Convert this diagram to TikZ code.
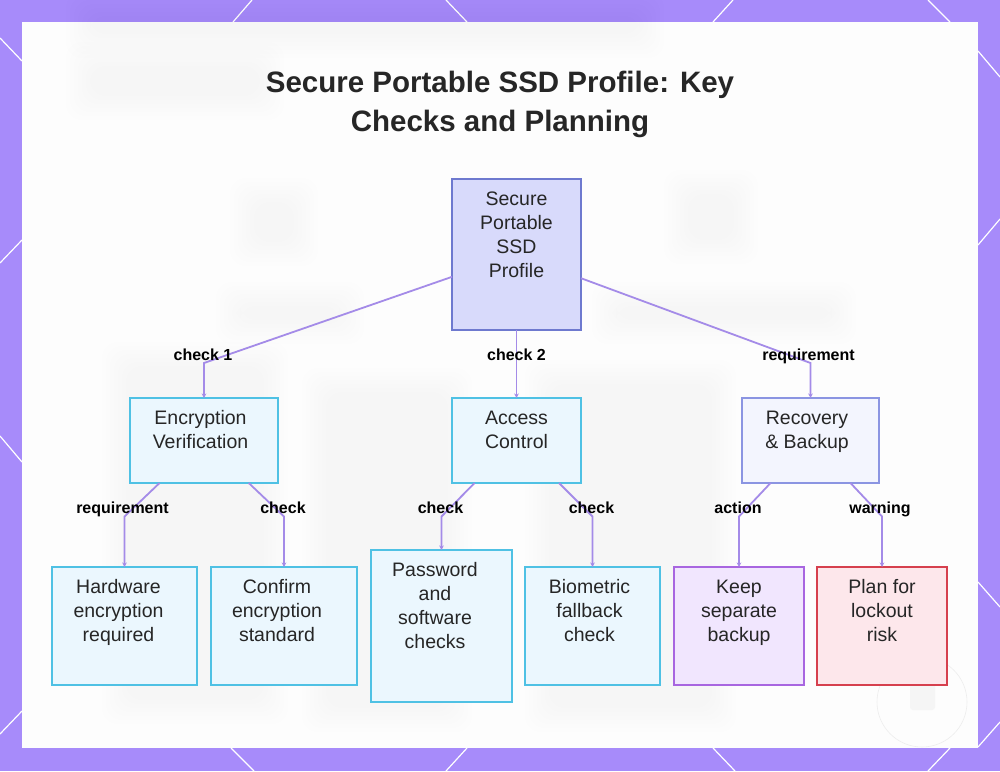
\documentclass[tikz,border=0pt]{standalone}
\usepackage{fontspec}
\setmainfont{Liberation Sans}
\usetikzlibrary{arrows.meta,calc}
\definecolor{bgpurple}{HTML}{A78BFA}
\definecolor{panel}{HTML}{FDFDFD}
\definecolor{conncol}{HTML}{A48BE8}
\definecolor{txt}{HTML}{262626}
\definecolor{rootfill}{HTML}{D8DAFB}
\definecolor{rootdraw}{HTML}{6E79CF}
\definecolor{cyanfill}{HTML}{EBF7FE}
\definecolor{cyandraw}{HTML}{4FC1E4}
\definecolor{recfill}{HTML}{F3F5FE}
\definecolor{recdraw}{HTML}{8B95E2}
\definecolor{keepfill}{HTML}{F1E6FE}
\definecolor{keepdraw}{HTML}{A866E0}
\definecolor{planfill}{HTML}{FDE7EB}
\definecolor{plandraw}{HTML}{D6404E}
\newcommand{\softblob}[5]{%
  \foreach \k in {0,4,...,24}{\fill[black,opacity=#5,rounded corners=16pt] (#1-\k,#2-\k) rectangle (#3+\k,#4+\k);}}
\begin{document}
\begin{tikzpicture}[x=1pt,y=-1pt,
  boxbase/.style={draw,line width=1.6pt,outer sep=0pt,inner sep=0pt},
  rootbox/.style={boxbase,fill=rootfill,draw=rootdraw},
  cyanbox/.style={boxbase,fill=cyanfill,draw=cyandraw},
  recbox/.style={boxbase,fill=recfill,draw=recdraw},
  keepbox/.style={boxbase,fill=keepfill,draw=keepdraw},
  planbox/.style={boxbase,fill=planfill,draw=plandraw},
  boxtext/.style={anchor=north,inner sep=0pt,align=center,text=txt,font=\fontsize{19.5}{24}\selectfont},
  lbl/.style={anchor=base,inner sep=0pt,text=black,font=\fontsize{16}{19}\selectfont\bfseries},
  conn/.style={draw=conncol,line width=1.8pt,-{Stealth[length=4.5pt,width=4.5pt]}},
  hexline/.style={draw=white,line width=1.2pt}]
\useasboundingbox (0,0) rectangle (1000,771);
% purple frame with hex lines
\fill[bgpurple] (0,0) rectangle (1000,771);
\foreach \a/\b/\c/\d in {252/0/233/22, 446/0/467/22, 733/0/713/22, 928/0/950/22,
  231/748/254/771, 467/748/446/771, 713/748/735/771, 950/748/928/771,
  0/38/22/61, 0/263/22/240, 0/436/22/462, 0/734/22/711,
  978/51/1000/77, 978/245/1000/219, 978/582/1000/607, 978/747/1000/722}
  {\draw[hexline] (\a,\b) -- (\c,\d);}
\fill[panel] (22,22) rectangle (978,748);
% faint blurred background content
\softblob{90}{16}{640}{34}{0.003}
\softblob{90}{66}{260}{96}{0.003}
\softblob{254}{202}{294}{242}{0.004}
\softblob{688}{194}{734}{240}{0.004}
\softblob{240}{306}{340}{320}{0.003}
\softblob{616}{306}{832}{320}{0.003}
\softblob{126}{366}{264}{700}{0.0045}
\softblob{326}{392}{448}{708}{0.0045}
\softblob{549}{384}{712}{708}{0.0045}
\draw[black!7,line width=0.6pt] (922,702) circle (45);
\fill[black!4,rounded corners=3pt] (910,678) rectangle (935,710);
% title
\node[anchor=north,inner sep=0pt,align=center,text=txt,font=\fontsize{29.5}{39.5}\selectfont\bfseries] (title) at (500,64.4) {\strut Secure Portable SSD Profile: Key\\Checks and Planning};
% boxes
\node[rootbox,minimum width=129pt,minimum height=151pt] (root) at (516.5,254.5) {};
\node[cyanbox,minimum width=148pt,minimum height=85pt] (enc) at (204,440.5) {};
\node[cyanbox,minimum width=129pt,minimum height=85pt] (acc) at (516.5,440.5) {};
\node[recbox,minimum width=137pt,minimum height=85pt] (rec) at (810.5,440.5) {};
\node[cyanbox,minimum width=145pt,minimum height=118pt] (hw) at (124.5,626) {};
\node[cyanbox,minimum width=146pt,minimum height=118pt] (conf) at (284,626) {};
\node[cyanbox,minimum width=141pt,minimum height=152pt] (pass) at (441.5,626) {};
\node[cyanbox,minimum width=135pt,minimum height=118pt] (bio) at (592.5,626) {};
\node[keepbox,minimum width=130pt,minimum height=118pt] (keep) at (739,626) {};
\node[planbox,minimum width=130pt,minimum height=118pt] (plan) at (882,626) {};
% box texts
\node[boxtext] (root-t) at ($(root.north)+(0,9.2)$) {\strut Secure\\Portable\\SSD\\Profile};
\node[boxtext] (enc-t) at ($(enc.north)+(-3.5,9.2)$) {\strut Encryption\\Verification};
\node[boxtext] (acc-t) at ($(acc.north)+(0,9.2)$) {\strut Access\\Control};
\node[boxtext] (rec-t) at ($(rec.north)+(-3.5,9.2)$) {\strut Recovery\\\& Backup};
\node[boxtext] (hw-t) at ($(hw.north)+(-6,9.2)$) {\strut Hardware\\encryption\\required};
\node[boxtext] (conf-t) at ($(conf.north)+(-7,9.2)$) {\strut Confirm\\encryption\\standard};
\node[boxtext] (pass-t) at ($(pass.north)+(-6.5,9.2)$) {\strut Password\\and\\software\\checks};
\node[boxtext] (bio-t) at ($(bio.north)+(-3,9.2)$) {\strut Biometric\\fallback\\check};
\node[boxtext] (keep-t) at ($(keep.north)+(0,9.2)$) {\strut Keep\\separate\\backup};
\node[boxtext] (plan-t) at ($(plan.north)+(0,9.2)$) {\strut Plan for\\lockout\\risk};
% bend points
\coordinate (b-enc) at (204,363);
\coordinate (b-acc) at (516.5,363);
\coordinate (b-rec) at (810.5,363);
\coordinate (b-hw) at (124.5,516.5);
\coordinate (b-conf) at (284,516.5);
\coordinate (b-pass) at (441.5,516.5);
\coordinate (b-bio) at (592.5,516.5);
\coordinate (b-keep) at (739,516.5);
\coordinate (b-plan) at (882,516.5);
% connectors
\draw[conn] (root) -- (b-enc) -- (enc);
\draw[conn] (root) -- (b-acc) -- (acc);
\draw[conn] (root) -- (b-rec) -- (rec);
\draw[conn] (enc) -- (b-hw) -- (hw);
\draw[conn] (enc) -- (b-conf) -- (conf);
\draw[conn] (acc) -- (b-pass) -- (pass);
\draw[conn] (acc) -- (b-bio) -- (bio);
\draw[conn] (rec) -- (b-keep) -- (keep);
\draw[conn] (rec) -- (b-plan) -- (plan);
% labels
\node[lbl] (l-enc) at ($(b-enc)+(-1,-2.5)$) {check 1};
\node[lbl] (l-acc) at ($(b-acc)+(0,-2.5)$) {check 2};
\node[lbl] (l-rec) at ($(b-rec)+(-2,-2.5)$) {requirement};
\node[lbl] (l-hw) at ($(b-hw)+(-2,-3.5)$) {requirement};
\node[lbl] (l-conf) at ($(b-conf)+(-1,-3.5)$) {check};
\node[lbl] (l-pass) at ($(b-pass)+(-1,-3.5)$) {check};
\node[lbl] (l-bio) at ($(b-bio)+(-1,-3.5)$) {check};
\node[lbl] (l-keep) at ($(b-keep)+(-1,-3.5)$) {action};
\node[lbl] (l-plan) at ($(b-plan)+(-2,-3.5)$) {warning};
\end{tikzpicture}
\end{document}
